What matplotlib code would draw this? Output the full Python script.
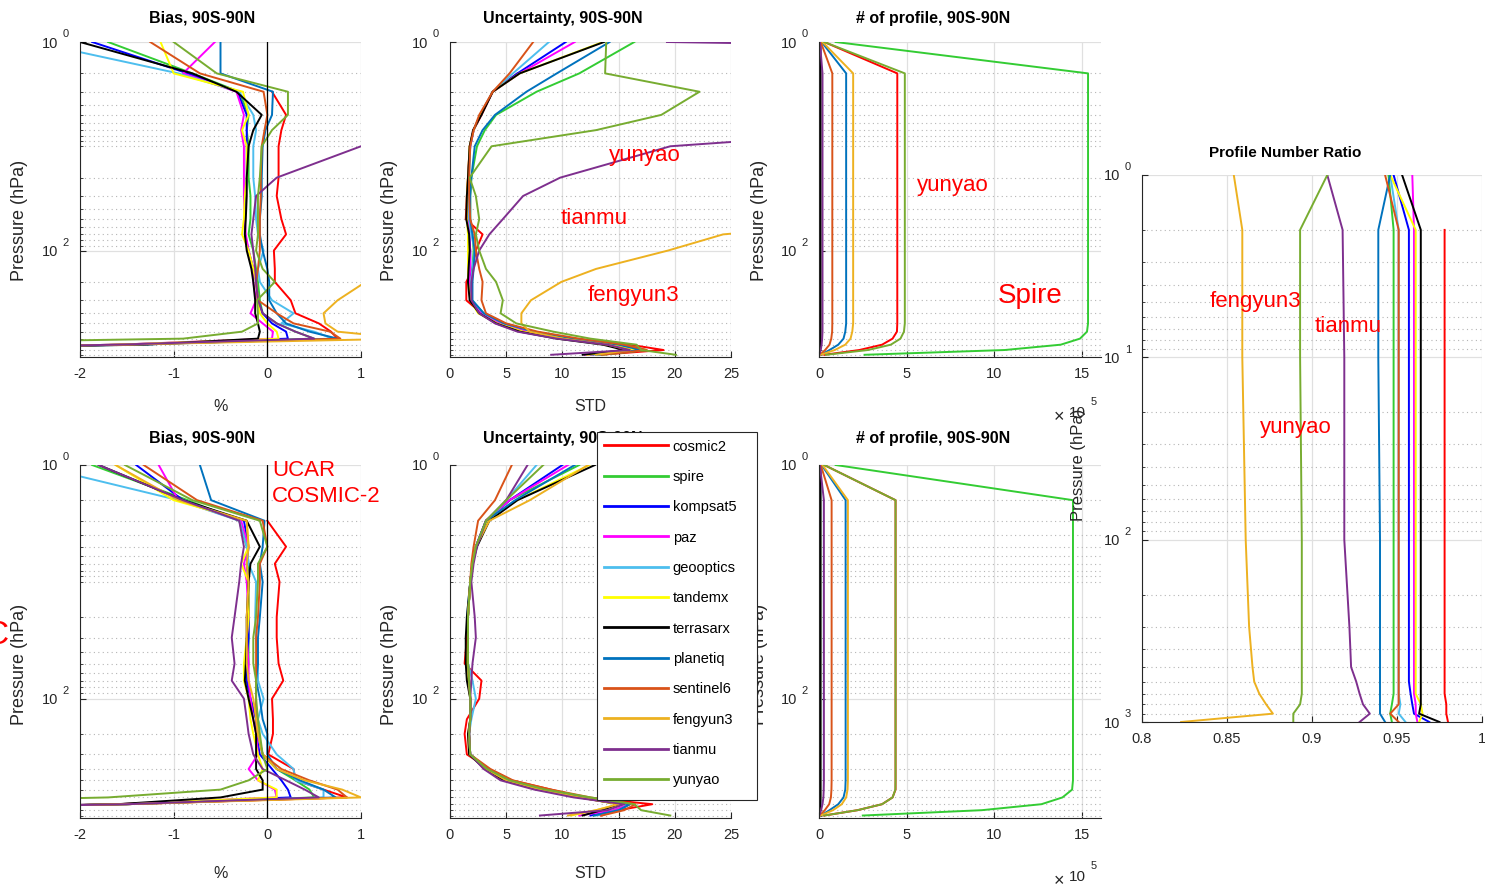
import numpy as np
import matplotlib.pyplot as plt
from matplotlib.ticker import FixedLocator, LogLocator, FuncFormatter, NullFormatter
from matplotlib.lines import Line2D
from matplotlib.patches import Rectangle

plt.rcParams['font.family'] = ['Liberation Sans', 'DejaVu Sans']

# missions, in plotting order
names = ['cosmic2', 'spire', 'kompsat5', 'paz', 'geooptics', 'tandemx',
         'terrasarx', 'planetiq', 'sentinel6', 'fengyun3', 'tianmu', 'yunyao']
colors = ['#FF0000', '#33CC33', '#0000FF', '#FF00FF', '#4DBEEE', '#FFFF00',
          '#000000', '#0072BD', '#D95319', '#EDB120', '#7E2F8E', '#77AC30']

nan = np.nan

# pressure levels (hPa)
P = [1, 2, 3, 5, 7, 10, 20, 30, 50, 70, 100, 150, 200, 300, 400, 500, 600, 700, 800, 900, 1000]
P_N = [1, 2, 500, 600, 700, 800, 900, 1000]
P_R = [1, 2, 10, 100, 300, 500, 600, 700, 800, 900, 1000]

# bias (%) -- all missions (top row)
bias_top = [
    [nan, nan, 0.05, 0.2, 0.15, 0.12, 0.12, 0.1, 0.15, 0.2, 0.07, 0.08, 0.08, 0.25, 0.3, 0.55, 0.68, 0.75, -1.5, -5, -5],
    [-1.7, -0.8, -0.3, -0.2, -0.22, -0.2, -0.2, -0.18, -0.18, -0.2, -0.15, -0.12, -0.1, -0.08, -0.05, 0.1, 0.3, 0.5, -1.5, -5, -5],
    [-1.87, -0.85, -0.32, -0.22, -0.22, -0.22, -0.22, -0.23, -0.24, -0.24, -0.2, -0.15, -0.12, -0.1, -0.05, 0.05, 0.2, 0.22, -1.6, -5, -5],
    [-0.56, -0.9, -0.33, -0.25, -0.28, -0.25, -0.25, -0.25, -0.24, -0.23, -0.2, -0.15, -0.15, -0.12, -0.18, -0.05, 0.06, 0.05, -1.6, -5, -5],
    [-2.5, -0.95, -0.3, -0.15, -0.12, -0.15, -0.15, -0.13, -0.12, -0.1, -0.04, -0.1, -0.08, 0.05, 0.28, 0.15, 0.5, 0.7, -1.5, -5, -5],
    [-1.14, -1.0, -0.26, -0.2, -0.27, -0.22, -0.22, -0.24, -0.25, -0.27, -0.2, -0.15, -0.12, -0.1, -0.08, 0.0, 0.1, 0.12, -1.6, -5, -5],
    [-2.0, -0.8, -0.33, -0.06, -0.15, -0.2, -0.22, -0.22, -0.23, -0.24, -0.22, -0.17, -0.15, -0.13, -0.13, -0.1, -0.08, -0.1, -1.3, -5, -5],
    [-0.5, -0.5, 0.06, 0.05, -0.02, -0.05, -0.06, -0.06, -0.08, -0.08, -0.05, 0.0, 0.02, 0.02, 0.1, 0.2, 0.45, 0.75, -1.4, -5, -5],
    [-1.25, -0.72, -0.04, 0.0, -0.03, -0.06, -0.07, -0.07, -0.08, -0.08, -0.08, -0.1, -0.12, -0.1, 0.1, 0.28, 0.67, 0.78, -1.5, -5, -5],
    [3, 3, 3, 3, 3, 3, 3, 3, 3, 3, 3, 1.6, 1.05, 0.75, 0.6, 0.62, 0.75, 1.5, -1.6, -5, -5],
    [3, 3, 3, 3, 3, 1.0, 0.1, -0.12, -0.15, -0.17, -0.15, -0.13, -0.12, -0.1, -0.05, 0.1, 0.3, 0.5, -1.6, -5, -5],
    [-1.0, -0.54, 0.22, 0.22, 0.05, -0.06, -0.08, -0.1, -0.1, -0.1, -0.12, -0.05, 0.08, -0.11, -0.1, -0.1, -0.27, -0.9, -5, -5, -5],
]

# bias (%) -- UCAR COSMIC-2 reference (bottom row)
bias_bot = [
    [nan, nan, 0.0, 0.2, 0.08, 0.13, 0.1, 0.1, 0.12, 0.17, 0.05, 0.06, 0.06, 0.01, 0.28, 0.3, 0.6, 0.85, -1.5, -5, -5],
    [-1.87, -0.85, -0.3, -0.22, -0.2, -0.2, -0.2, -0.2, -0.2, -0.22, -0.18, -0.12, -0.1, -0.05, 0.1, 0.3, 0.45, 0.5, -1.5, -5, -5],
    [-1.4, -0.9, -0.25, -0.2, -0.22, -0.2, -0.2, -0.2, -0.22, -0.22, -0.18, -0.12, -0.12, -0.08, 0.05, 0.15, 0.22, 0.25, -1.6, -5, -5],
    [-1.16, -0.95, -0.28, -0.2, -0.25, -0.22, -0.2, -0.22, -0.2, -0.2, -0.18, -0.15, -0.12, -0.1, -0.2, -0.1, 0.08, 0.1, -1.6, -5, -5],
    [-2.5, -0.95, -0.3, -0.22, -0.2, -0.12, -0.13, -0.12, -0.1, -0.1, -0.04, -0.1, -0.05, 0.1, 0.28, 0.3, 0.6, 0.6, -1.5, -5, -5],
    [-1.62, -1.0, -0.22, -0.2, -0.28, -0.2, -0.2, -0.22, -0.25, -0.25, -0.2, -0.18, -0.15, -0.1, -0.05, -0.1, 0.1, 0.1, -1.6, -5, -5],
    [-1.8, -0.9, -0.22, -0.08, -0.18, -0.2, -0.22, -0.22, -0.23, -0.24, -0.2, -0.15, -0.12, -0.12, -0.12, -0.05, -0.05, -0.5, -1.6, -5, -5],
    [-0.72, -0.6, -0.03, -0.05, -0.08, -0.05, -0.08, -0.1, -0.1, -0.12, -0.08, -0.05, 0.0, 0.0, 0.1, 0.35, 0.6, 0.73, -1.5, -5, -5],
    [-1.32, -0.75, -0.05, 0.0, -0.08, -0.08, -0.1, -0.12, -0.12, -0.12, -0.12, -0.12, -0.1, -0.05, 0.15, 0.45, 0.75, 0.85, -1.5, -5, -5],
    [-1.62, -0.95, -0.22, -0.2, -0.22, -0.2, -0.22, -0.22, -0.22, -0.2, -0.15, -0.12, -0.1, -0.05, 0.1, 0.4, 0.8, 1.0, -1.5, -5, -5],
    [-1.8, -0.9, -0.3, -0.25, -0.28, -0.3, -0.35, -0.38, -0.35, -0.38, -0.25, -0.22, -0.2, -0.15, -0.05, 0.2, 0.4, 0.55, -1.5, -5, -5],
    [-1.52, -0.8, -0.08, 0.0, -0.1, -0.1, -0.12, -0.15, -0.15, -0.12, -0.12, -0.1, -0.08, -0.05, 0.0, -0.2, -0.5, -1.7, -5, -5, -5],
]

# uncertainty (STD) -- top row
std_top = [
    [nan, 6.0, 3.8, 2.8, 2.1, 1.75, 1.6, 1.5, 1.4, 2.9, 2.3, 2.0, 1.45, 1.45, 2.8, 4.5, 7.0, 11.0, 16.0, 19.0, 13.3],
    [16.4, 11.5, 7.7, 4.1, 3.1, 2.4, 1.9, 1.8, 1.8, 2.0, 2.1, 2.0, 1.9, 1.9, 3.0, 4.8, 7.5, 11.0, 15.5, 17.5, 13.5],
    [10.3, 6.0, 3.8, 2.7, 2.1, 1.8, 1.6, 1.6, 1.6, 1.7, 1.8, 1.8, 1.7, 1.8, 2.8, 4.5, 7.0, 11.0, 15.0, 17.0, 12.5],
    [11.1, 6.2, 3.8, 2.7, 2.1, 1.8, 1.6, 1.6, 1.6, 1.7, 1.8, 1.8, 1.7, 1.8, 2.8, 4.5, 7.0, 11.0, 15.0, 17.0, 12.0],
    [8.8, 5.6, 3.8, 2.7, 2.1, 1.8, 1.7, 1.7, 1.7, 1.9, 2.2, 2.0, 1.9, 1.9, 3.0, 4.8, 7.5, 11.0, 15.0, 17.0, 13.2],
    [13.6, 6.2, 3.8, 2.7, 2.1, 1.75, 1.6, 1.5, 1.5, 1.6, 1.6, 1.6, 1.6, 1.8, 2.5, 4.2, 6.5, 10.5, 14.5, 16.5, 12.2],
    [13.7, 6.2, 3.8, 2.8, 2.05, 1.75, 1.6, 1.5, 1.45, 1.7, 1.75, 1.65, 1.6, 1.75, 2.6, 4.1, 6.2, 9.5, 13.6, 15.5, 11.8],
    [14.2, 9.5, 6.8, 4.0, 2.9, 2.2, 1.9, 1.8, 1.8, 2.0, 2.2, 2.1, 2.0, 2.0, 3.0, 4.8, 7.5, 11.0, 15.0, 17.0, 13.0],
    [7.4, 5.3, 3.8, 2.6, 2.1, 1.8, 1.7, 1.7, 1.8, 2.2, 2.3, 2.6, 2.9, 2.8, 3.2, 5.0, 7.8, 11.5, 15.5, 17.5, 13.5],
    [40, 40, 40, 40, 40, 40, 40, 40, 40, 24.3, 19.4, 13.0, 9.9, 7.2, 6.35, 6.35, 7.1, 10.0, 14.0, 16.0, 13.0],
    [19.3, 200, 100, 60, 40, 19.6, 9.8, 6.5, 4.7, 3.5, 2.6, 2.1, 1.9, 1.9, 2.6, 4.0, 6.0, 9.5, 14.0, 16.0, 9.0],
    [13.9, 13.8, 22.2, 18.8, 13.0, 3.7, 1.75, 2.3, 2.6, 2.3, 2.6, 3.2, 4.1, 4.7, 4.5, 5.9, 9.2, 12.5, 16.6, 17.0, 20.1],
]

# uncertainty (STD) -- bottom row
std_bot = [
    [nan, 5.3, 3.2, 2.3, 2.0, 1.8, 1.6, 1.5, 1.3, 2.8, 2.6, 1.5, 1.3, 1.5, 3.5, 5.5, 9.0, 12.0, 18.0, 15.0, 13.4],
    [11.5, 5.3, 3.2, 2.3, 2.0, 1.8, 1.6, 1.6, 1.6, 1.7, 1.8, 1.8, 1.7, 1.8, 3.3, 5.2, 8.5, 12.0, 16.0, 15.0, 12.8],
    [10.0, 5.3, 3.2, 2.3, 2.0, 1.8, 1.6, 1.6, 1.6, 1.7, 1.8, 1.8, 1.7, 1.8, 3.3, 5.2, 8.5, 12.0, 16.0, 15.0, 12.5],
    [10.5, 5.3, 3.2, 2.3, 2.0, 1.8, 1.6, 1.6, 1.6, 1.7, 1.8, 1.8, 1.7, 1.8, 3.3, 5.2, 8.5, 12.0, 16.0, 14.5, 11.5],
    [7.7, 5.0, 3.4, 2.3, 2.0, 1.8, 1.5, 1.6, 1.6, 2.0, 2.3, 1.9, 1.7, 1.8, 3.4, 5.3, 8.5, 12.0, 16.0, 15.0, 13.0],
    [12.4, 6.0, 3.3, 2.3, 2.0, 1.8, 1.6, 1.6, 1.5, 1.6, 1.8, 1.8, 1.6, 1.7, 3.2, 5.0, 8.0, 11.5, 15.0, 13.0, 10.8],
    [12.9, 6.0, 3.5, 2.4, 2.0, 1.8, 1.5, 1.4, 1.4, 1.5, 1.8, 1.8, 1.6, 1.7, 3.1, 4.8, 7.8, 11.5, 15.0, 13.5, 11.8],
    [11.1, 5.8, 3.2, 2.3, 2.0, 1.8, 1.6, 1.6, 1.6, 1.7, 1.8, 1.8, 1.7, 1.8, 3.3, 5.3, 8.5, 12.0, 16.0, 15.0, 12.8],
    [5.5, 4.0, 2.5, 2.1, 1.9, 1.8, 1.6, 1.6, 1.6, 1.7, 1.8, 1.8, 1.7, 1.8, 3.6, 5.6, 9.0, 12.5, 16.5, 15.5, 13.5],
    [12.3, 7.1, 3.5, 2.3, 2.0, 1.8, 1.6, 1.6, 1.6, 1.7, 1.8, 1.8, 1.7, 1.8, 3.2, 5.0, 8.0, 11.5, 15.0, 13.0, 10.5],
    [6.9, 5.0, 3.2, 2.4, 2.1, 1.9, 2.2, 2.3, 2.0, 1.9, 1.8, 1.8, 1.7, 1.8, 3.0, 4.5, 7.5, 11.0, 15.5, 14.0, 8.0],
    [8.3, 5.0, 3.2, 2.3, 2.0, 1.8, 1.6, 1.6, 1.6, 1.7, 1.8, 1.8, 1.7, 1.8, 3.3, 5.3, 8.5, 12.5, 16.4, 17.0, 19.6],
]

# number of profiles (x 1e5) -- top row, levels P_N
num_top = [
    [0.3, 4.47, 4.47, 4.45, 4.2, 3.6, 2.3, 0.3],
    [0.95, 15.36, 15.36, 15.3, 14.9, 13.8, 10.6, 2.6],
    [0.1, 0.12, 0.12, 0.12, 0.11, 0.1, 0.06, 0.02],
    [0.08, 0.1, 0.1, 0.1, 0.1, 0.09, 0.05, 0.02],
    [0.08, 0.1, 0.1, 0.1, 0.1, 0.09, 0.05, 0.02],
    [0.06, 0.08, 0.08, 0.08, 0.08, 0.07, 0.04, 0.01],
    [0.06, 0.08, 0.08, 0.08, 0.08, 0.07, 0.04, 0.01],
    [0.15, 1.55, 1.55, 1.5, 1.4, 1.1, 0.6, 0.1],
    [0.1, 0.76, 0.76, 0.75, 0.7, 0.6, 0.35, 0.05],
    [0.2, 1.95, 1.95, 1.9, 1.8, 1.5, 0.9, 0.1],
    [0.05, 0.2, 0.2, 0.2, 0.18, 0.15, 0.1, 0.02],
    [0.3, 4.9, 4.9, 4.85, 4.65, 4.1, 2.8, 0.4],
]

# number of profiles (x 1e5) -- bottom row, levels P_N
num_bot = [
    [0.3, 4.37, 4.37, 4.37, 4.2, 3.6, 2.2, 0.3],
    [0.95, 14.5, 14.5, 14.45, 13.9, 12.7, 9.3, 2.5],
    [0.1, 0.12, 0.12, 0.12, 0.11, 0.1, 0.06, 0.02],
    [0.08, 0.1, 0.1, 0.1, 0.1, 0.09, 0.05, 0.02],
    [0.08, 0.1, 0.1, 0.1, 0.1, 0.09, 0.05, 0.02],
    [0.06, 0.08, 0.08, 0.08, 0.08, 0.07, 0.04, 0.01],
    [0.06, 0.08, 0.08, 0.08, 0.08, 0.07, 0.04, 0.01],
    [0.15, 1.52, 1.52, 1.5, 1.4, 1.1, 0.6, 0.1],
    [0.1, 0.72, 0.72, 0.71, 0.68, 0.58, 0.33, 0.05],
    [0.2, 1.65, 1.65, 1.63, 1.55, 1.3, 0.8, 0.1],
    [0.05, 0.28, 0.28, 0.27, 0.25, 0.2, 0.12, 0.02],
    [0.3, 4.37, 4.37, 4.36, 4.2, 3.6, 2.2, 0.3],
]

# profile number ratio, levels P_R
ratio = [
    [nan, 0.978, 0.978, 0.978, 0.978, 0.978, 0.978, 0.978, 0.979, 0.979, 0.98],
    [0.945, 0.948, 0.948, 0.948, 0.948, 0.948, 0.948, 0.948, 0.947, 0.946, 0.947],
    [0.948, 0.957, 0.957, 0.957, 0.957, 0.957, 0.957, 0.958, 0.959, 0.96, 0.969],
    [0.959, 0.96, 0.96, 0.96, 0.96, 0.96, 0.96, 0.96, 0.961, 0.961, 0.962],
    [0.946, 0.951, 0.951, 0.951, 0.951, 0.951, 0.951, 0.951, 0.952, 0.951, 0.955],
    [0.946, 0.961, 0.961, 0.961, 0.961, 0.961, 0.961, 0.961, 0.964, 0.965, 0.963],
    [0.953, 0.964, 0.964, 0.964, 0.964, 0.964, 0.964, 0.964, 0.964, 0.963, 0.975],
    [0.946, 0.939, 0.939, 0.94, 0.94, 0.94, 0.94, 0.94, 0.94, 0.94, 0.943],
    [0.943, 0.951, 0.951, 0.951, 0.951, 0.951, 0.951, 0.951, 0.951, 0.946, 0.951],
    [0.854, 0.859, 0.859, 0.861, 0.863, 0.865, 0.866, 0.869, 0.873, 0.877, 0.823],
    [0.909, 0.918, 0.919, 0.919, 0.922, 0.923, 0.926, 0.928, 0.93, 0.934, 0.928],
    [0.909, 0.893, 0.893, 0.894, 0.894, 0.894, 0.894, 0.894, 0.893, 0.889, 0.889],
]

W, H = 1485, 894
INK = '#262626'
fig = plt.figure(figsize=(W / 100, H / 100), dpi=100)


def box(x0, y0, x1, y1):
    return [x0 / W, 1 - y1 / H, (x1 - x0) / W, (y1 - y0) / H]


def setup(ax, xlim, xticks, xlabels, ymajor=(1, 100), ylim=(1050, 1)):
    ax.set_yscale('log')
    ax.set_ylim(*ylim)
    ax.set_xlim(*xlim)
    ax.xaxis.set_major_locator(FixedLocator(xticks))
    ax.set_xticklabels(xlabels)
    ax.yaxis.set_major_locator(FixedLocator(list(ymajor)))
    ax.yaxis.set_minor_locator(LogLocator(base=10, subs=np.arange(1, 10), numticks=30))
    # MATLAB style "10 ^n": base as tick label, exponent drawn separately
    ax.yaxis.set_major_formatter(FuncFormatter(lambda v, pos: '10'))
    ax.yaxis.set_minor_formatter(NullFormatter())
    for v in ymajor:
        ax.annotate('%d' % round(np.log10(v)), xy=(0, v), xycoords=('axes fraction', 'data'),
                    xytext=(-12.5, 5.5), textcoords='offset points', fontsize=8,
                    color=INK, ha='left', va='center', annotation_clip=False)
    ax.grid(which='major', color='#e0e0e0', lw=0.9, ls='-')
    ax.grid(which='minor', axis='y', color='#b5b5b5', lw=0.8, ls=(0, (1, 3)))
    ax.set_axisbelow(True)
    for s in ['top', 'right']:
        ax.spines[s].set_visible(False)
    for s in ['left', 'bottom']:
        ax.spines[s].set_color(INK)
        ax.spines[s].set_linewidth(0.8)
    ax.tick_params(which='both', direction='in', colors=INK, labelsize=10.5)
    ax.tick_params(which='major', length=4)
    ax.tick_params(which='minor', length=2)
    ax.tick_params(axis='x', pad=7)
    ax.tick_params(axis='y', pad=16)


def draw(ax, levels, series):
    for vals, c in zip(series, colors):
        ax.plot(vals, levels, color=c, lw=1.4)


bias_ticks = [-2, -1, 0, 1]
std_ticks = [0, 5, 10, 15, 20, 25]
num_ticks = [0, 5, 10, 15]

rows = [(42, 357, bias_top, std_top, num_top), (465, 818, bias_bot, std_bot, num_bot)]
for y0, y1, b, s, n in rows:
    h = y1 - y0
    top = y0 < 100
    tpad = 14 if top else 16
    xl = -42 / h if top else -48 / h
    tkw = dict(fontsize=11.5, fontweight='bold', pad=tpad)

    ax = fig.add_axes(box(80, y0, 361, y1))
    setup(ax, (-2, 1), bias_ticks, ['-2', '-1', '0', '1'])
    draw(ax, P, b)
    ax.axvline(0, color='k', lw=0.9)
    ax.set_title('Bias, 90S-90N', x=0.434, **tkw)
    ax.set_xlabel('%', fontsize=11.5, color=INK)
    ax.xaxis.set_label_coords(0.5, xl)
    ax.set_ylabel('Pressure (hPa)', fontsize=13, color=INK)
    ax.yaxis.set_label_coords(-52 / 281, 0.435)

    ax = fig.add_axes(box(450, y0, 731, y1))
    setup(ax, (0, 25), std_ticks, [str(t) for t in std_ticks])
    draw(ax, P, s)
    ax.set_title('Uncertainty, 90S-90N', x=0.402, **tkw)
    ax.set_xlabel('STD', fontsize=11.5, color=INK)
    ax.xaxis.set_label_coords(0.5, xl)
    ax.set_ylabel('Pressure (hPa)', fontsize=13, color=INK)
    ax.yaxis.set_label_coords(-52 / 281, 0.435)

    ax = fig.add_axes(box(819, y0, 1101, y1))
    setup(ax, (0, 16.1), num_ticks, [str(t) for t in num_ticks])
    draw(ax, P_N, n)
    ax.set_title('# of profile, 90S-90N', x=0.404, **tkw)
    ax.set_ylabel('Pressure (hPa)', fontsize=13, color=INK)
    ax.yaxis.set_label_coords(-51 / 282, 0.435)

# ratio panel
ax = fig.add_axes(box(1142, 175, 1482, 722))
setup(ax, (0.8, 1.0), [0.8, 0.85, 0.9, 0.95, 1.0], ['0.8', '0.85', '0.9', '0.95', '1'],
      ymajor=(1, 10, 100, 1000), ylim=(1000, 1))
draw(ax, P_R, ratio)
ax.set_title('Profile Number Ratio', x=0.42, fontsize=11, fontweight='bold', pad=13)
ax.set_ylabel('Pressure (hPa)', fontsize=12, color=INK)
ax.yaxis.set_label_coords(-56 / 340, 0.47)


def ftext(x, y, s, **kw):
    fig.text(x / W, 1 - y / H, s, **kw)


red = dict(color='#FF0000', fontsize=16, ha='center', va='center')
ftext(645, 156, 'yunyao', **red)
ftext(594, 219, 'tianmu', **red)
ftext(633, 296, 'fengyun3', **red)
ftext(953, 186, 'yunyao', **red)
ftext(1030, 296, 'Spire', color='#FF0000', fontsize=20, ha='center', va='center')
ftext(1255, 302, 'fengyun3', **red)
ftext(1348, 327, 'tianmu', **red)
ftext(1296, 427, 'yunyao', **red)
ftext(272, 470, 'UCAR', color='#FF0000', fontsize=16, ha='left', va='center')
ftext(272, 497, 'COSMIC-2', color='#FF0000', fontsize=16, ha='left', va='center')
ftext(-16, 636, 'C', color='#FF0000', fontsize=24, ha='left', va='center')

# axis multiplier labels of the profile-count panels
for yb in (416, 880):
    ftext(1054, yb + 2, '\u00d7', fontsize=13, color=INK, ha='left', va='center')
    ftext(1069, yb - 3, '10', fontsize=11, color=INK, ha='left', va='center')
    ftext(1091, yb - 14, '5', fontsize=8, color=INK, ha='left', va='center')

# legend with a MATLAB-like frame
fig.patches.append(Rectangle((597 / W, 1 - 800 / H), 160 / W, 368 / H, transform=fig.transFigure,
                             facecolor='white', edgecolor=INK, lw=0.8, zorder=4))
handles = [Line2D([], [], color=c, lw=2) for c in colors]
leg = fig.legend(handles, names, loc='upper left', bbox_to_anchor=(597 / W, 1 - 433 / H),
                 frameon=False, fontsize=10.5, handlelength=4.4, handletextpad=0.35,
                 labelspacing=1.12, borderpad=0.45, borderaxespad=0)
leg.set_zorder(5)

fig.savefig('out.png', dpi=100)
